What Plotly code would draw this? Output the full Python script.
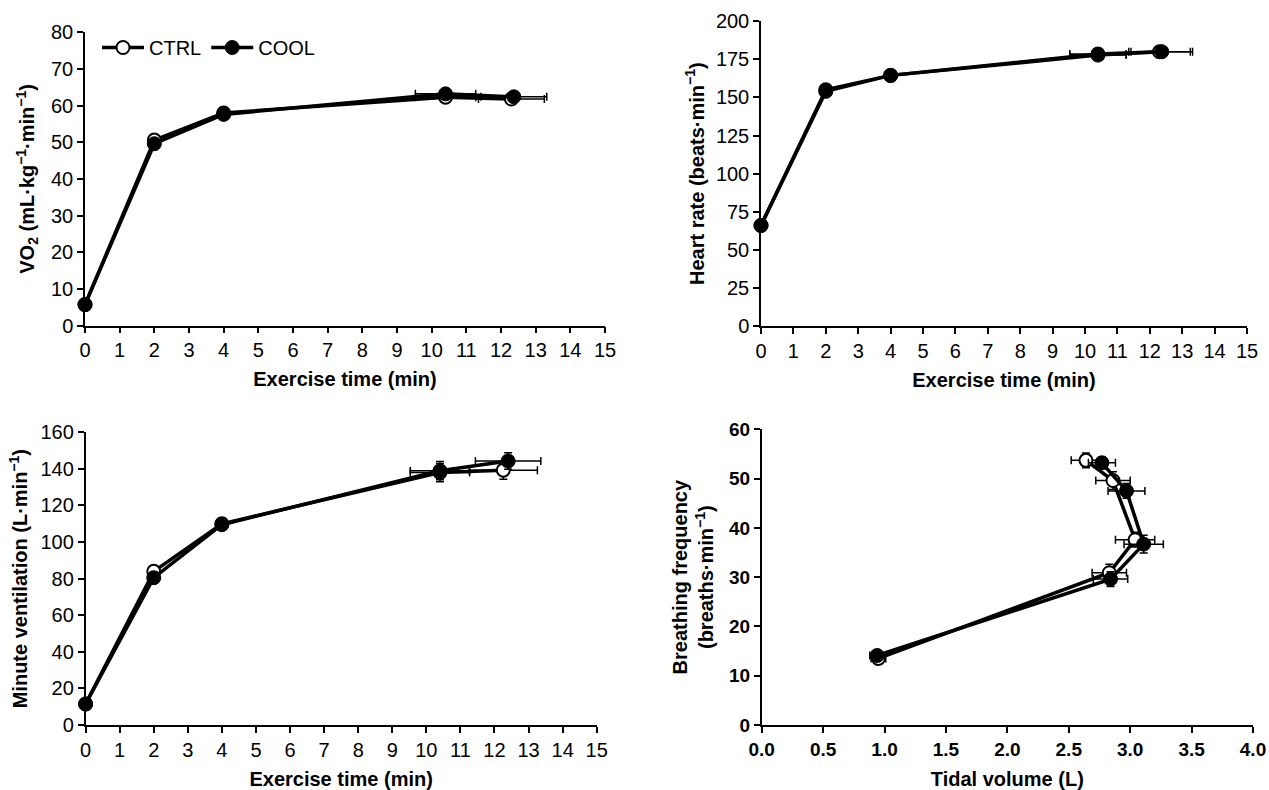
import plotly.graph_objects as go

# ---------------- data ----------------
time_ctrl = [0, 2, 4, 10.4, 12.3]
time_cool = [0, 2, 4, 10.4, 12.37]
time_xerr = [0, 0, 0, 0.87, 0.95]

vo2_ctrl = [5.7, 50.6, 58.0, 62.3, 61.8]
vo2_cool = [5.7, 49.6, 57.6, 63.2, 62.4]
vo2_ctrl_err = [0.5, 1.2, 1.2, 1.0, 1.0]
vo2_cool_err = [0.5, 1.2, 1.2, 1.0, 1.0]

hr_ctrl = [66, 155, 164.5, 178.5, 180]
hr_cool = [66, 154, 164.5, 177.8, 180]
hr_err = [2, 3, 2, 2.5, 2]

ve_time_ctrl = [0, 2, 4, 10.4, 12.26]
ve_time_cool = [0, 2, 4, 10.4, 12.4]
ve_ctrl = [11.5, 84, 110, 138, 139.3]
ve_cool = [11.5, 80.5, 109.5, 139, 144.3]
ve_ctrl_err = [1.5, 3, 3, 5, 5]
ve_cool_err = [1.5, 3, 3, 5, 4.5]
ve_xerr_ctrl = [0, 0, 0, 0.87, 1.0]
ve_xerr_cool = [0, 0, 0, 0.87, 0.96]

vt_ctrl = [0.95, 2.83, 3.04, 2.86, 2.64]
bf_ctrl = [13.5, 30.9, 37.6, 49.6, 53.7]
vt_cool = [0.94, 2.84, 3.11, 2.97, 2.77]
bf_cool = [14.1, 29.6, 36.7, 47.5, 53.2]
vt_ctrl_err = [0.06, 0.14, 0.16, 0.14, 0.12]
vt_cool_err = [0.06, 0.14, 0.16, 0.15, 0.11]
bf_ctrl_err = [0.8, 1.7, 1.5, 1.8, 1.5]
bf_cool_err = [0.8, 1.5, 1.8, 1.5, 1.2]

FONT = "Liberation Sans, Arial, sans-serif"
W, H = 1269, 790

fig = go.Figure()

def add_pair(xc, yc, xcool, ycool, xa, ya, exc=None, eyc=None, excool=None, eycool=None, legend=False):
    common = dict(mode="lines+markers", xaxis=xa, yaxis=ya, cliponaxis=False,
                  line=dict(color="black", width=3.5))
    fig.add_trace(go.Scatter(
        x=xc, y=yc, name="CTRL", showlegend=legend,
        marker=dict(symbol="circle", size=13, color="white", line=dict(color="black", width=2)),
        error_x=dict(type="data", array=exc, color="black", thickness=1.5, width=4, visible=exc is not None),
        error_y=dict(type="data", array=eyc, color="black", thickness=1.5, width=4, visible=eyc is not None),
        **common))
    fig.add_trace(go.Scatter(
        x=xcool, y=ycool, name="COOL", showlegend=legend,
        marker=dict(symbol="circle", size=14, color="black", line=dict(color="black", width=1)),
        error_x=dict(type="data", array=excool, color="black", thickness=1.5, width=4, visible=excool is not None),
        error_y=dict(type="data", array=eycool, color="black", thickness=1.5, width=4, visible=eycool is not None),
        **common))

add_pair(time_ctrl, vo2_ctrl, time_cool, vo2_cool, "x", "y",
         time_xerr, vo2_ctrl_err, time_xerr, vo2_cool_err, legend=True)
add_pair(time_ctrl, hr_ctrl, time_cool, hr_cool, "x2", "y2",
         time_xerr, hr_err, time_xerr, hr_err)
add_pair(ve_time_ctrl, ve_ctrl, ve_time_cool, ve_cool, "x3", "y3",
         ve_xerr_ctrl, ve_ctrl_err, ve_xerr_cool, ve_cool_err)
add_pair(vt_ctrl, bf_ctrl, vt_cool, bf_cool, "x4", "y4",
         vt_ctrl_err, bf_ctrl_err, vt_cool_err, bf_cool_err)

def px_x(a, b):
    return [a / W, b / W]

def px_y(top, bottom):
    return [1 - bottom / H, 1 - top / H]

tickfont = dict(family=FONT, size=20, color="black")
tickfont_b = dict(family=FONT, size=19, color="black", weight="bold")
titlefont = dict(family=FONT, size=20, color="black", weight="bold")

def xax(domain, anchor, rng, dtick, title, bold=False, fmt=None, standoff=10):
    d = dict(domain=domain, anchor=anchor, range=rng, dtick=dtick, tick0=0, automargin=False,
             showline=True, linecolor="black", linewidth=1.5, ticks="outside",
             ticklen=6, tickwidth=1.5, tickcolor="black", showgrid=False, zeroline=False,
             tickfont=tickfont_b if bold else tickfont,
             title=dict(text=title, font=titlefont, standoff=standoff))
    if fmt:
        d["tickformat"] = fmt
    return d

def yax(domain, anchor, rng, dtick, title, bold=False, standoff=8):
    return dict(domain=domain, anchor=anchor, range=rng, dtick=dtick, tick0=0, automargin=False,
                showline=True, linecolor="black", linewidth=1.5, ticks="outside",
                ticklen=6, tickwidth=1.5, tickcolor="black", showgrid=False, zeroline=False,
                tickfont=tickfont_b if bold else tickfont,
                title=dict(text=title, font=titlefont, standoff=standoff))

fig.update_layout(
    width=W, height=H, margin=dict(l=0, r=0, t=0, b=0, autoexpand=False),
    paper_bgcolor="white", plot_bgcolor="white",
    font=dict(family=FONT, color="black"),
    xaxis=xax(px_x(85, 605), "y", [0, 15], 1, "Exercise time (min)", standoff=12),
    yaxis=yax(px_y(32.3, 325.5), "x", [0, 80], 10,
              "VO<sub>2</sub> (mL·kg<sup>−1</sup>·min<sup>−1</sup>)", standoff=11),
    xaxis2=xax(px_x(761, 1247), "y2", [0, 15], 1, "Exercise time (min)", standoff=12),
    yaxis2=yax(px_y(21.3, 326), "x2", [0, 200], 25,
               "Heart rate (beats·min<sup>−1</sup>)", standoff=6),
    xaxis3=xax(px_x(85.6, 596.7), "y3", [0, 15], 1, "Exercise time (min)", standoff=12),
    yaxis3=yax(px_y(432.3, 725), "x3", [0, 160], 20,
               "Minute ventilation (L·min<sup>−1</sup>)", standoff=7),
    xaxis4=xax(px_x(761.7, 1253), "y4", [0, 4], 0.5, "Tidal volume (L)", bold=True, fmt=".1f",
               standoff=14),
    yaxis4=yax(px_y(429.3, 725), "x4", [0, 60], 10,
               "Breathing frequency<br>(breaths·min<sup>−1</sup>)", bold=True, standoff=10),
    legend=dict(orientation="h", x=97 / W, y=1 - 28 / H, xanchor="left", yanchor="top",
                font=dict(family=FONT, size=20, color="black"),
                bgcolor="rgba(0,0,0,0)", itemwidth=42, tracegroupgap=0),
)

fig.write_html("out.html")
